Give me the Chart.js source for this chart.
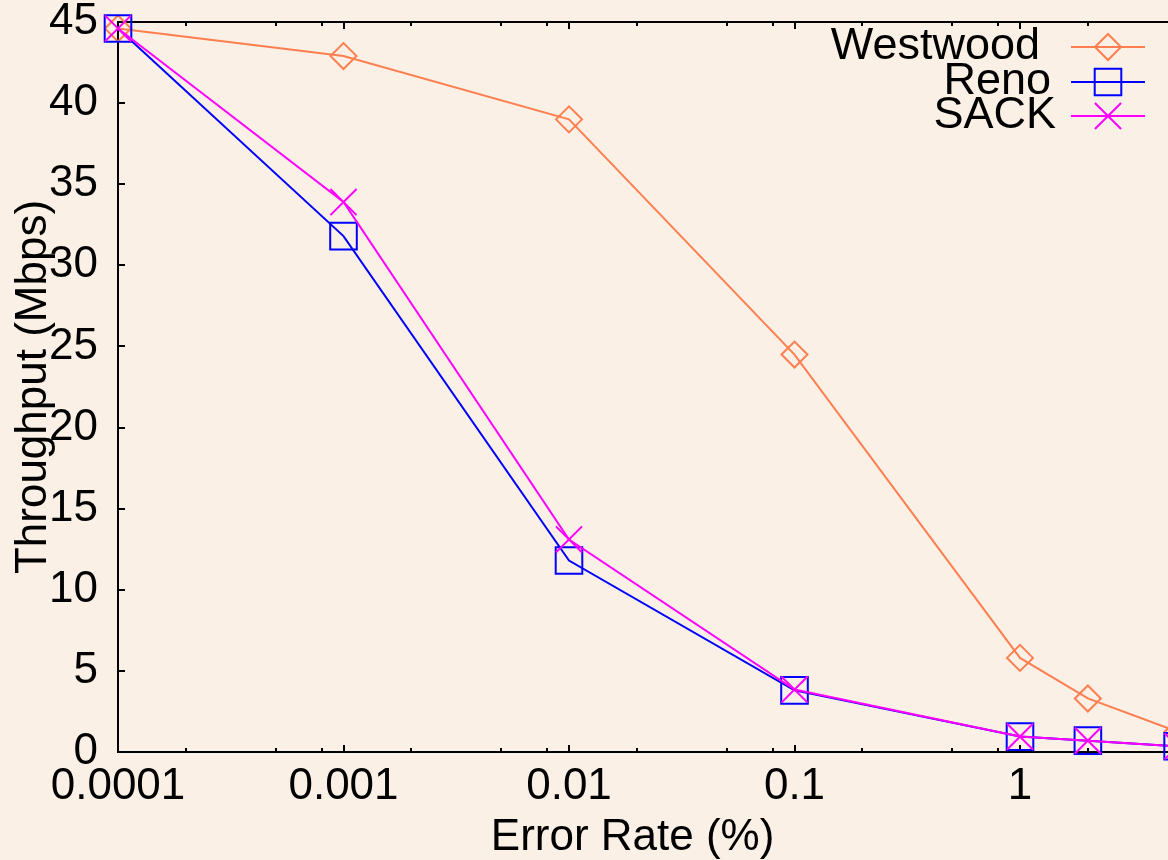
<!DOCTYPE html>
<html><head><meta charset="utf-8">
<script src="https://cdn.jsdelivr.net/npm/chart.js@4/dist/chart.umd.min.js"></script>
<style>html,body{margin:0;padding:0;background:#FAF0E6;overflow:hidden}canvas{display:block}</style>
</head><body>
<canvas id="c" width="1168" height="860"></canvas>
<script>
// ---- data ----
const errorRates = [0.0001, 0.001, 0.01, 0.1, 1, 2, 5];
const westwood = [44.6, 42.9, 39.0, 24.5, 5.8, 3.3, 1.25];
const reno     = [44.6, 31.8, 11.8, 3.8, 0.95, 0.7, 0.35];
const sack     = [44.6, 33.9, 13.1, 3.85, 0.95, 0.7, 0.35];
const seriesNames = ['Westwood', 'Reno', 'SACK'];
const xMajorTicks = [0.0001, 0.001, 0.01, 0.1, 1];
const xMinorMultipliers = [2, 5, 8];
const xAxisTitle = 'Error Rate (%)';
const yAxisTitle = 'Throughput (Mbps)';

const FONT = {family: '"Liberation Sans", Arial, sans-serif', size: 44};
const colors = ['#FF7F50', '#0000FF', '#FF00FF'];
const styles = [
  {pointStyle: 'rectRot', radius: 13},
  {pointStyle: 'rect', radius: 18.8},
  {pointStyle: 'crossRot', radius: 18.5}
];
const seriesValues = [westwood, reno, sack];

const datasets = seriesValues.map((vals, i) => ({
  label: seriesNames[i],
  data: errorRates.map((x, j) => ({x: x, y: vals[j]})),
  borderColor: colors[i],
  backgroundColor: colors[i],
  borderWidth: 2,
  tension: 0,
  pointStyle: styles[i].pointStyle,
  pointRadius: styles[i].radius,
  pointHoverRadius: styles[i].radius,
  pointBorderWidth: 2,
  pointBorderColor: colors[i],
  pointBackgroundColor: 'rgba(0,0,0,0)',
  clip: false,
  order: 3 - i
}));

const bgPlugin = {
  id: 'bg',
  beforeDraw(chart) {
    const c = chart.ctx;
    c.save();
    c.fillStyle = '#FAF0E6';
    c.fillRect(0, 0, chart.width, chart.height);
    c.restore();
  }
};

// frame continuation (plot extends past the canvas edge) + inward tick marks
const frameTicks = {
  id: 'frameTicks',
  beforeDatasetsDraw(chart) {
    const {ctx, chartArea: a, scales: {x, y}} = chart;
    ctx.save();
    ctx.strokeStyle = '#000';
    ctx.lineWidth = 2;
    ctx.beginPath();
    ctx.moveTo(a.left - 1, a.top);
    ctx.lineTo(chart.width, a.top);
    ctx.moveTo(a.right - 1, a.bottom);
    ctx.lineTo(chart.width, a.bottom);
    ctx.stroke();
    ctx.beginPath();
    x.ticks.forEach(t => {
      const px = Math.round(x.getPixelForValue(t.value));
      const len = t.major ? 7 : 4;
      ctx.moveTo(px, a.bottom); ctx.lineTo(px, a.bottom - len);
      ctx.moveTo(px, a.top); ctx.lineTo(px, a.top + len);
    });
    y.ticks.forEach(t => {
      const py = Math.round(y.getPixelForValue(t.value));
      ctx.moveTo(a.left, py); ctx.lineTo(a.left + 7, py);
    });
    ctx.stroke();
    ctx.restore();
  }
};

// points beyond the right edge of the plot area (partially visible at canvas edge)
const edgePoints = {
  id: 'edgePoints',
  afterDatasetsDraw(chart) {
    const ctx = chart.ctx;
    const a = chart.chartArea;
    for (let i = 0; i < chart.data.datasets.length; i++) {
      const meta = chart.getDatasetMeta(i);
      meta.data.forEach(el => {
        if (el.x > a.right) el.draw(ctx);
      });
    }
  }
};

const legendPlugin = {
  id: 'customLegend',
  afterDraw(chart) {
    const ctx = chart.ctx;
    const rows = [{xr: 1040, y: 47}, {xr: 1051, y: 82}, {xr: 1056, y: 116}];
    ctx.save();
    ctx.font = '45px ' + FONT.family;
    ctx.textAlign = 'right';
    ctx.textBaseline = 'middle';
    chart.data.datasets.forEach((ds, i) => {
      const r = rows[i];
      ctx.fillStyle = '#000';
      ctx.fillText(ds.label, r.xr, r.y);
      ctx.strokeStyle = ds.borderColor;
      ctx.lineWidth = 2;
      ctx.beginPath();
      ctx.moveTo(1071, r.y); ctx.lineTo(1145, r.y);
      ctx.stroke();
      ctx.fillStyle = 'rgba(0,0,0,0)';
      Chart.helpers.drawPoint(ctx, {pointStyle: ds.pointStyle, radius: ds.pointRadius, borderWidth: 2, rotation: 0}, 1108, r.y);
    });
    ctx.restore();
  }
};

Chart.defaults.font.family = FONT.family;
Chart.defaults.color = '#000';

new Chart(document.getElementById('c'), {
  type: 'line',
  data: {datasets: datasets},
  plugins: [bgPlugin, frameTicks, edgePoints, legendPlugin],
  options: {
    responsive: false,
    animation: false,
    devicePixelRatio: 1,
    layout: {padding: {top: 22, right: 0, bottom: 0, left: 0}},
    plugins: {legend: {display: false}, tooltip: {enabled: false}},
    events: [],
    scales: {
      x: {
        type: 'logarithmic',
        position: 'bottom',
        min: 0.0001,
        max: 3.665,
        afterBuildTicks(scale) {
          const t = [];
          xMajorTicks.forEach(m => {
            t.push({value: m, major: true});
            xMinorMultipliers.forEach(k => { if (m * k <= scale.max) t.push({value: m * k, major: false}); });
          });
          scale.ticks = t;
        },
        afterFit(scale) {
          scale.height = 108;
          scale.paddingLeft = 0; scale.paddingRight = 0;
        },
        ticks: {
          autoSkip: false, maxRotation: 0, minRotation: 0, padding: 8,
          font: {size: FONT.size}, color: '#000',
          callback(value) {
            const i = xMajorTicks.indexOf(value);
            return i >= 0 ? String(xMajorTicks[i]) : '';
          }
        },
        grid: {display: false, drawTicks: false},
        border: {display: true, color: '#000', width: 2},
        title: {display: true, text: xAxisTitle, color: '#000', font: {size: FONT.size, lineHeight: 1}, padding: {top: 0, bottom: 0}}
      },
      y: {
        type: 'linear',
        min: 0, max: 45,
        afterFit(scale) {
          scale.width = 118;
          scale.paddingTop = 0; scale.paddingBottom = 0;
        },
        ticks: {stepSize: 5, padding: 20, font: {size: FONT.size}, color: '#000'},
        grid: {display: false, drawTicks: false},
        border: {display: true, color: '#000', width: 2},
        title: {display: true, text: yAxisTitle, color: '#000', font: {size: FONT.size}, padding: {top: 7, bottom: 0}}
      }
    }
  }
});
</script>
</body></html>
